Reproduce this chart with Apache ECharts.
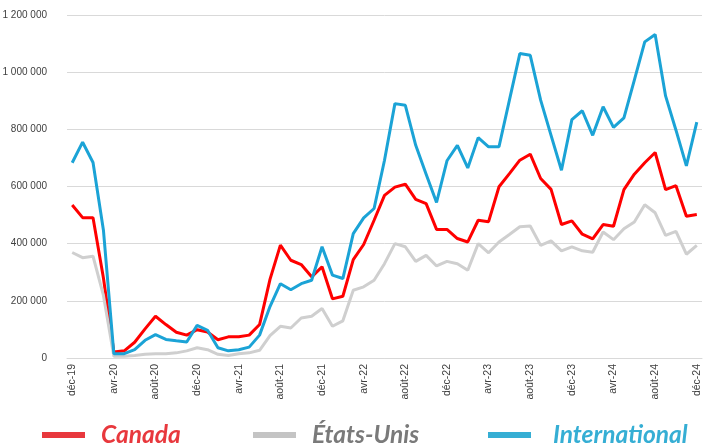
<!DOCTYPE html>
<html>
<head>
<meta charset="utf-8">
<script src="https://cdn.jsdelivr.net/npm/echarts@6/dist/echarts.min.js"></script>
<style>
  html, body { margin: 0; padding: 0; background: #fff; }
  #chart { width: 704px; height: 445px; }
</style>
</head>
<body>
<div id="chart"></div>
<script>
'use strict';

// mois de déc-19 à déc-24
var monthNames = ['janv', 'févr', 'mars', 'avr', 'mai', 'juin', 'juil', 'août', 'sept', 'oct', 'nov', 'déc'];
var categories = ['déc-19'];
for (var y = 20; y <= 24; y++) {
    for (var m = 0; m < 12; m++) {
        categories.push(monthNames[m] + '-' + y);
    }
}

var canada = [535000, 491000, 491000, 280000, 21000, 25000, 55000, 102000, 146000, 117000, 90000, 80000,
    99000, 91000, 64000, 74000, 74000, 80000, 117000, 275000, 395000, 342000, 327000, 284000,
    319000, 207000, 216000, 344000, 397000, 482000, 569000, 598000, 608000, 555000, 540000, 450000,
    450000, 418000, 406000, 482000, 477000, 599000, 645000, 692000, 713000, 628000, 590000, 467000,
    480000, 433000, 417000, 467000, 461000, 589000, 643000, 683000, 719000, 589000, 603000, 496000,
    502000];

var etatsUnis = [369000, 351000, 356000, 219000, 6000, 6000, 9000, 13000, 15000, 15000, 18000, 25000,
    36000, 29000, 13000, 9000, 15000, 18000, 27000, 78000, 111000, 105000, 140000, 146000,
    173000, 111000, 130000, 237000, 249000, 272000, 330000, 400000, 389000, 338000, 359000, 322000,
    338000, 330000, 307000, 400000, 368000, 406000, 432000, 459000, 462000, 394000, 410000, 375000,
    389000, 375000, 370000, 441000, 414000, 452000, 476000, 536000, 508000, 429000, 443000, 363000,
    394000];

var international = [683000, 755000, 684000, 447000, 15000, 15000, 29000, 62000, 82000, 65000, 60000, 56000,
    114000, 97000, 36000, 25000, 29000, 38000, 80000, 180000, 260000, 239000, 260000, 272000,
    389000, 290000, 278000, 435000, 490000, 523000, 692000, 890000, 884000, 744000, 643000, 544000,
    690000, 744000, 665000, 771000, 739000, 739000, 902000, 1065000, 1059000, 902000, 779000, 657000,
    834000, 865000, 779000, 879000, 807000, 840000, 972000, 1106000, 1132000, 917000, 797000, 672000,
    825000];

var seriesNames = ['Canada', 'États-Unis', 'International'];
var lineColors = ['#ff0000', '#cfcfcf', '#1ba3d6'];
var legendIconColors = ['#e8383d', '#c4c4c4', '#35aed4'];
var legendTextColors = ['#e8383d', '#7a7a7a', '#35aed4'];
var legendLeft = [42, 253, 488];
var legendTextGap = [11, 11, 17];

function fmt(v) {
    return String(v).replace(/\B(?=(\d{3})+(?!\d))/g, ' ');
}

var chart = echarts.init(document.getElementById('chart'));

var legends = seriesNames.map(function (name, i) {
    return {
        left: legendLeft[i],
        top: 422,
        padding: 0,
        icon: 'rect',
        itemWidth: 43,
        itemHeight: 6,
        itemGap: 0,
        selectedMode: false,
        data: [{ name: name, itemStyle: { color: legendIconColors[i] } }],
        textStyle: {
            color: legendTextColors[i],
            fontSize: 24.5,
            lineHeight: 26,
            fontStyle: 'italic',
            fontWeight: 'bold',
            fontFamily: 'Lato',
            padding: [0, 0, 0, legendTextGap[i]]
        }
    };
});

var option = {
    animation: false,
    backgroundColor: '#fff',
    grid: { left: 67, right: 2, top: 15, bottom: 87, outerBoundsMode: 'none' },
    legend: legends,
    xAxis: {
        type: 'category',
        data: categories,
        boundaryGap: true,
        axisLine: { lineStyle: { color: '#d9d9d9', width: 1 } },
        axisTick: { interval: 3, length: 5, lineStyle: { color: '#d9d9d9' } },
        axisLabel: {
            interval: 3,
            rotate: 90,
            margin: 6,
            color: '#404040',
            fontSize: 10.5,
            fontFamily: 'Liberation Sans'
        }
    },
    yAxis: {
        type: 'value',
        min: 0,
        max: 1200000,
        interval: 200000,
        axisLine: { show: false },
        axisTick: { show: false },
        splitLine: { lineStyle: { color: '#d9d9d9', width: 1 } },
        axisLabel: {
            margin: 20,
            color: '#404040',
            fontSize: 10,
            fontFamily: 'Liberation Sans',
            formatter: fmt
        }
    },
    series: [
        { name: seriesNames[0], type: 'line', data: canada },
        { name: seriesNames[1], type: 'line', data: etatsUnis },
        { name: seriesNames[2], type: 'line', data: international }
    ].map(function (s, i) {
        s.showSymbol = false;
        s.symbol = 'none';
        s.lineStyle = { color: lineColors[i], width: 3 };
        s.itemStyle = { color: lineColors[i] };
        return s;
    })
};

chart.setOption(option);
</script>
</body>
</html>
